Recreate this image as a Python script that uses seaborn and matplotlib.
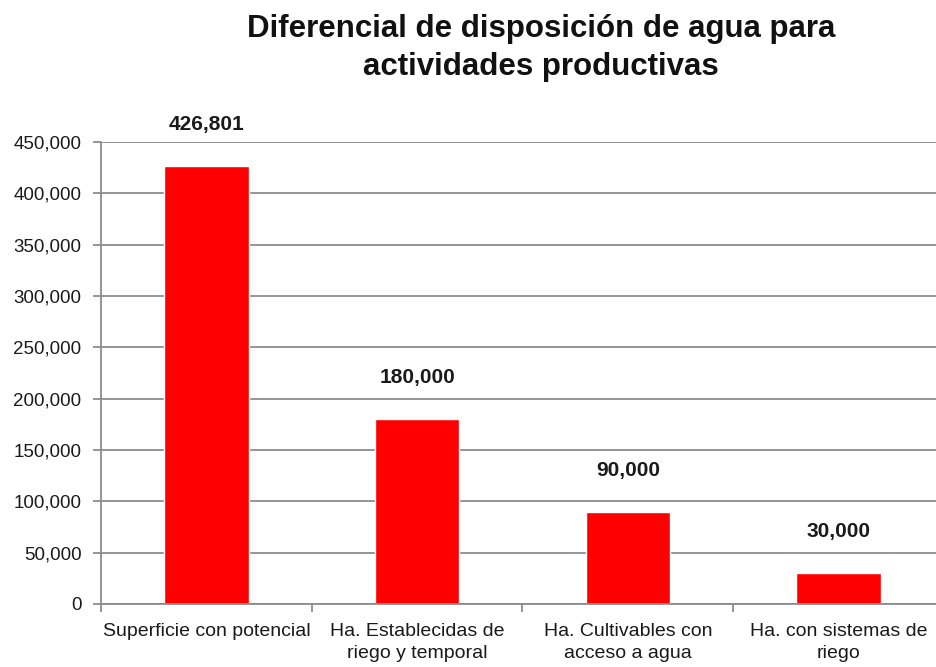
#!/usr/bin/env python3
# Bar chart: diferencial de disposicion de agua para actividades productivas

import pandas as pd
import seaborn as sns
import matplotlib
matplotlib.use("Agg")
import matplotlib.pyplot as plt
from matplotlib.ticker import FuncFormatter, MultipleLocator, FixedLocator

categories = [
    "Superficie con potencial",
    "Ha. Establecidas de\nriego y temporal",
    "Ha. Cultivables con\nacceso a agua",
    "Ha. con sistemas de\nriego",
]
hectares = [426801, 180000, 90000, 30000]

sns.set_style("white")
plt.rcParams["font.family"] = ["Liberation Sans", "DejaVu Sans"]

df = pd.DataFrame({"categoria": categories, "ha": hectares})

fig = plt.figure(figsize=(9.37, 6.67), dpi=100)
ax = fig.add_axes([101 / 937, 63 / 667, 843 / 937, 462 / 667])

sns.barplot(x="categoria", y="ha", data=df, color="#ff0000", saturation=1,
            width=0.4, ax=ax)

ax.set_ylim(0, 450000)
ax.set_xlim(-0.5, 3.5)
ax.yaxis.set_major_locator(MultipleLocator(50000))
ax.yaxis.set_major_formatter(FuncFormatter(lambda v, _: "{:,.0f}".format(v)))
ax.grid(axis="y", color="#8c8c8c", linewidth=1.3)
ax.set_axisbelow(True)

for side in ["top", "right"]:
    ax.spines[side].set_visible(False)
for side in ["left", "bottom"]:
    ax.spines[side].set_color("#8c8c8c")
    ax.spines[side].set_linewidth(1.3)

ax.xaxis.set_minor_locator(FixedLocator([-0.5, 0.5, 1.5, 2.5, 3.5]))
ax.tick_params(axis="x", which="major", length=0, pad=14, labelsize=14)
ax.tick_params(axis="x", which="minor", length=6, width=1.3, color="#8c8c8c",
               direction="out", bottom=True)
ax.tick_params(axis="y", length=6, width=1.3, color="#8c8c8c", direction="out",
               left=True, labelsize=13.5, pad=8)
for lab in ax.get_xticklabels() + ax.get_yticklabels():
    lab.set_color("#1a1a1a")
for lab in ax.get_xticklabels():
    lab.set_linespacing(1.35)

ax.set_xlabel("")
ax.set_ylabel("")

ax.bar_label(ax.containers[0], labels=["{:,}".format(v) for v in hectares],
             padding=23, fontsize=15, fontweight="bold", color="#1a1a1a")

fig.text(541 / 937, 1 - 48 / 667,
         "Diferencial de disposición de agua para\nactividades productivas",
         ha="center", va="center", fontsize=22.5, fontweight="bold",
         color="#111111", linespacing=1.35)

fig.savefig("out.png", dpi=100)
